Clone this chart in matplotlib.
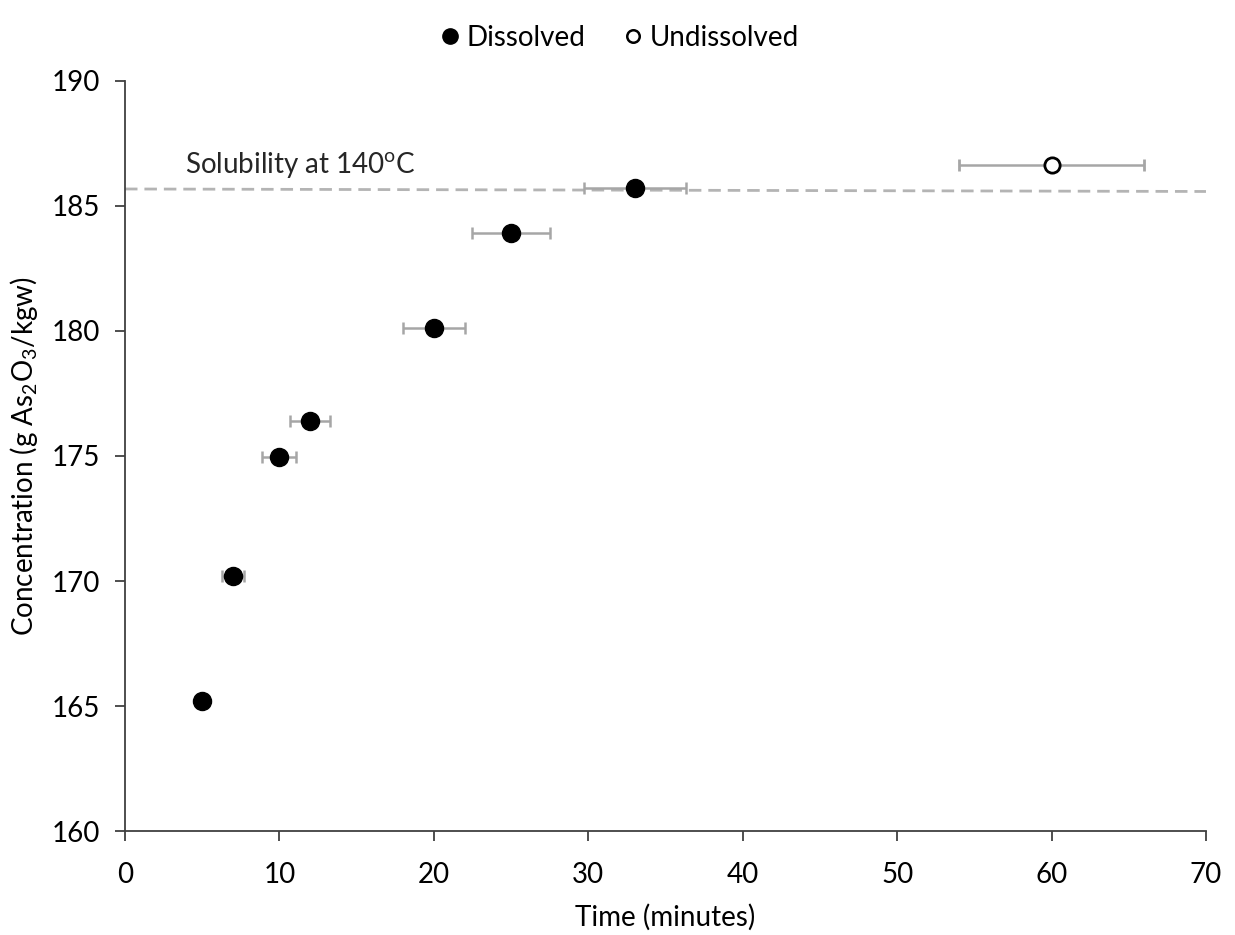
import matplotlib
matplotlib.use("Agg")
import matplotlib.pyplot as plt
from matplotlib.lines import Line2D

plt.rcParams['font.family'] = ['Lato', 'DejaVu Sans']

# Dissolved samples
time_dissolved = [5, 7, 10, 12, 20, 25, 33]
conc_dissolved = [165.2, 170.2, 174.95, 176.4, 180.1, 183.9, 185.7]
xerr_dissolved = [0.3, 0.7, 1.1, 1.3, 2.0, 2.5, 3.3]

# Undissolved sample
time_undissolved = [60]
conc_undissolved = [186.65]
xerr_undissolved = [6.0]

# Solubility line at 140 C
sol_x = [0, 70]
sol_y = [185.68, 185.58]

ERR_COLOR = '#A6A6A6'
AXIS_COLOR = '#404040'

fig = plt.figure(figsize=(12.35, 9.35), dpi=100)
ax = fig.add_axes([0.1012, 0.1112, 0.8753, 0.8022])

ax.plot(sol_x, sol_y, color='#B4B4B4', lw=2.0, ls=(0, (4.5, 2.5)), zorder=1)

ax.errorbar(time_dissolved, conc_dissolved, xerr=xerr_dissolved, fmt='o',
            color='black', markersize=13, ecolor=ERR_COLOR, elinewidth=1.8,
            capsize=4, capthick=1.8, zorder=3)
ax.errorbar(time_undissolved, conc_undissolved, xerr=xerr_undissolved, fmt='o',
            mfc='white', mec='black', mew=2, color='black', markersize=11,
            ecolor=ERR_COLOR, elinewidth=1.8, capsize=4, capthick=1.8, zorder=3)

ax.text(3.9, 186.0, 'Solubility at 140$^{\\mathregular{o}}$C', fontsize=20,
        color='#262626', va='bottom', ha='left')

ax.set_xlim(0, 70)
ax.set_ylim(160, 190)
ax.set_xticks(range(0, 71, 10))
ax.set_yticks(range(160, 191, 5))

for side in ['top', 'right']:
    ax.spines[side].set_visible(False)
for side in ['left', 'bottom']:
    ax.spines[side].set_color(AXIS_COLOR)
    ax.spines[side].set_linewidth(1.3)
ax.tick_params(direction='out', length=7, width=1.3, color=AXIS_COLOR,
               labelsize=20, labelcolor='black')
ax.tick_params(axis='x', pad=15)
ax.tick_params(axis='y', pad=11)

ax.set_xlabel('Time (minutes)', fontsize=20, labelpad=12)
ax.set_ylabel('Concentration (g As$_{\\mathregular{2}}$O$_{\\mathregular{3}}$/kgw)',
              fontsize=20, labelpad=8)

handles = [
    Line2D([], [], marker='o', ls='none', color='black', markersize=11),
    Line2D([], [], marker='o', ls='none', mfc='white', mec='black', mew=1.8, markersize=9),
]
fig.legend(handles, ['Dissolved', 'Undissolved'], loc='upper center',
           bbox_to_anchor=(0.5, 1.0), ncol=2, frameon=False, fontsize=20,
           handletextpad=0.1, columnspacing=1.2, handlelength=1.0)

fig.savefig('out.png', dpi=100)
